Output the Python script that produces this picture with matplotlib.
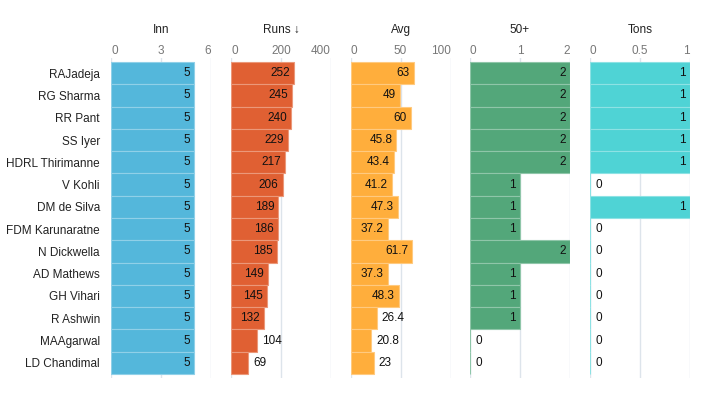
import matplotlib
matplotlib.use("Agg")
import matplotlib.pyplot as plt
import matplotlib.colors as mcolors
import numpy as np

players = ["RAJadeja", "RG Sharma", "RR Pant", "SS Iyer", "HDRL Thirimanne", "V Kohli",
           "DM de Silva", "FDM Karunaratne", "N Dickwella", "AD Mathews", "GH Vihari",
           "R Ashwin", "MAAgarwal", "LD Chandimal"]
inn = [5, 5, 5, 5, 5, 5, 5, 5, 5, 5, 5, 5, 5, 5]
runs = [252, 245, 240, 229, 217, 206, 189, 186, 185, 149, 145, 132, 104, 69]
avg = [63, 49, 60, 45.8, 43.4, 41.2, 47.3, 37.2, 61.7, 37.3, 48.3, 26.4, 20.8, 23]
fifties = [2, 2, 2, 2, 2, 1, 1, 1, 2, 1, 1, 1, 0, 0]
tons = [1, 1, 1, 1, 1, 0, 1, 0, 0, 0, 0, 0, 0, 0]

titles = ["Inn", "Runs \u2193", "Avg", "50+", "Tons"]
series = [inn, runs, avg, fifties, tons]
xmaxes = [6, 400, 100, 2, 1]
ticks = [[0, 3, 6], [0, 200, 400], [0, 50, 100], [0, 1, 2], [0, 0.5, 1]]
ticklabels = [["0", "3", "6"], ["0", "200", "400"], ["0", "50", "100"], ["0", "1", "2"], ["0", "0.5", "1"]]
colors = ["#54b7db", "#e06033", "#ffae3c", "#53a77a", "#4fd3d5"]

plt.rcParams['font.family'] = ['Liberation Sans', 'DejaVu Sans']

W, H = 709, 399
fig = plt.figure(figsize=(W / 100, H / 100), dpi=100)

n = len(players)
bar_top, bar_bot = 62, 374
pitch = (bar_bot - bar_top) / n
ax_top, ax_bot = 58, 378
pad = (bar_top - ax_top) / pitch
lefts = [111, 231, 350.5, 470, 590]

def lighten(c, f=0.35):
    r, g, b = mcolors.to_rgb(c)
    return (r + (1 - r) * f, g + (1 - g) * f, b + (1 - b) * f)

y = np.arange(n)
for i in range(5):
    ax = fig.add_axes([lefts[i] / W, 1 - ax_bot / H, 100 / W, (ax_bot - ax_top) / H])
    vals = series[i]
    xm = xmaxes[i]
    ax.set_xlim(0, xm)
    ax.set_ylim(n - 0.5 + pad, -0.5 - pad)
    for t in ticks[i]:
        ax.axvline(t, color="#dde4eb", lw=1, zorder=0)
    ax.barh(y, vals, height=1.0, color=colors[i], edgecolor=lighten(colors[i]), linewidth=0.8, zorder=2)
    for yi, v in zip(y, vals):
        lab = f"{v:g}"
        frac = v / xm
        if frac >= 0.3:
            ax.text(v - xm * 0.04, yi, lab, ha="right", va="center", fontsize=8.5, color="#111111", zorder=3)
        else:
            ax.text(v + xm * 0.05, yi, lab, ha="left", va="center", fontsize=8.5, color="#111111", zorder=3)
    ax.set_xticks(ticks[i])
    ax.set_xticklabels(ticklabels[i])
    ax.xaxis.tick_top()
    ax.tick_params(axis="x", length=0, pad=0.5, labelsize=8.5, labelcolor="#777777")
    tls = ax.get_xticklabels()
    tls[0].set_horizontalalignment("left")
    tls[-1].set_horizontalalignment("right")
    for s in ax.spines.values():
        s.set_visible(False)
    ax.set_facecolor("none")
    ax.set_title(titles[i], fontsize=8.5, color="#222222", pad=18)
    if i == 0:
        ax.set_yticks(y)
        ax.set_yticklabels(players)
        ax.tick_params(axis="y", length=0, pad=8, labelsize=8.5, labelcolor="#222222")
    else:
        ax.set_yticks([])

fig.savefig("out.png", dpi=100)
